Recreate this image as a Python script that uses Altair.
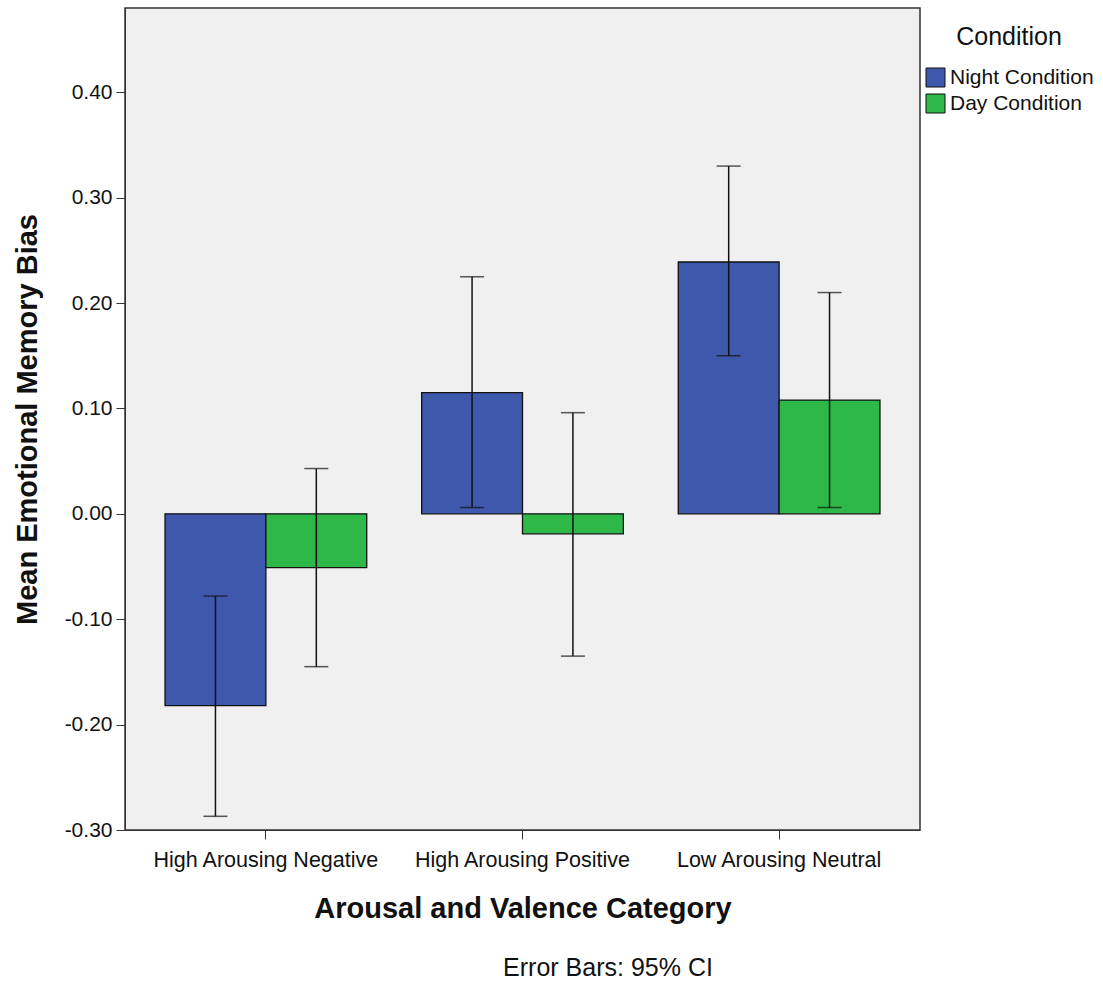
import altair as alt
import pandas as pd

categories = ["High Arousing Negative", "High Arousing Positive", "Low Arousing Neutral"]
conditions = ["Night Condition", "Day Condition"]
night_mean = [-0.182, 0.115, 0.239]
day_mean = [-0.051, -0.019, 0.108]
night_lo = [-0.287, 0.006, 0.150]
night_hi = [-0.078, 0.225, 0.330]
day_lo = [-0.145, -0.135, 0.006]
day_hi = [0.043, 0.096, 0.210]
colors = ["#3E58AC", "#2EB848"]

rows = []
for i, c in enumerate(categories):
    rows.append(dict(cat=c, cond=conditions[0], mean=night_mean[i], lo=night_lo[i], hi=night_hi[i]))
    rows.append(dict(cat=c, cond=conditions[1], mean=day_mean[i], lo=day_lo[i], hi=day_hi[i]))
df = pd.DataFrame(rows)

FONT = "Liberation Sans"

x = alt.X("cat:N", sort=categories,
          scale=alt.Scale(paddingInner=0.214, paddingOuter=0.156),
          axis=alt.Axis(title="Arousal and Valence Category", labelAngle=0, labelFontSize=21.5,
                        labelLimit=0,
                        titleFontSize=29, titleFontWeight="bold", titlePadding=24,
                        tickSize=9, labelPadding=10, domainColor="#333333", tickColor="#333333",
                        labelColor="#111111", titleColor="#111111", labelFont=FONT, titleFont=FONT))
xo = alt.XOffset("cond:N", sort=conditions, scale=alt.Scale(paddingInner=0, paddingOuter=0))
yscale = alt.Scale(domain=[-0.30, 0.48], nice=False, zero=False)

bars = alt.Chart(df).mark_bar(stroke="#111111", strokeWidth=1.3).encode(
    x=x, xOffset=xo,
    y=alt.Y("mean:Q", scale=yscale,
            axis=alt.Axis(title="Mean Emotional Memory Bias", format=".2f",
                          labelExpr="replace(datum.label, '\u2212', '-')",
                          values=[-0.3, -0.2, -0.1, 0.0, 0.1, 0.2, 0.3, 0.4],
                          grid=False, labelFontSize=21, titleFontSize=29, titleFontWeight="bold",
                          tickSize=9, labelPadding=4, titlePadding=22, domainColor="#333333",
                          tickColor="#333333", labelColor="#111111", titleColor="#111111",
                          labelFont=FONT, titleFont=FONT)),
    y2=alt.datum(0),
    color=alt.Color("cond:N", sort=conditions,
                    scale=alt.Scale(domain=conditions, range=colors),
                    legend=alt.Legend(title="Condition", orient="none", legendX=800, legendY=17,
                                      titleFontSize=25, titleFontWeight="normal", titleAnchor="middle",
                                      labelFontSize=21, symbolType="square", symbolSize=361,
                                      symbolStrokeColor="#111111", symbolStrokeWidth=1,
                                      rowPadding=3, titlePadding=17, labelOffset=4,
                                      labelFont=FONT, titleFont=FONT,
                                      labelColor="#111111", titleColor="#111111")),
)

rules = alt.Chart(df).mark_rule(color="#111111", strokeWidth=1.5).encode(
    x=alt.X("cat:N", sort=categories), xOffset=alt.XOffset("cond:N", sort=conditions),
    y="lo:Q", y2="hi:Q")
caps_lo = alt.Chart(df).mark_tick(color="#111111", thickness=1.5, size=24, orient="horizontal").encode(
    x=alt.X("cat:N", sort=categories), xOffset=alt.XOffset("cond:N", sort=conditions), y="lo:Q")
caps_hi = alt.Chart(df).mark_tick(color="#111111", thickness=1.5, size=24, orient="horizontal").encode(
    x=alt.X("cat:N", sort=categories), xOffset=alt.XOffset("cond:N", sort=conditions), y="hi:Q")

note = alt.Chart(pd.DataFrame({"t": ["Error Bars: 95% CI"]})).mark_text(
    fontSize=25, font=FONT, color="#111111", align="center", baseline="middle").encode(
    text="t:N", x=alt.value(483), y=alt.value(960))

chart = alt.layer(bars, rules, caps_lo, caps_hi, note).properties(
    width=795, height=822,
    autosize=alt.AutoSizeParams(type="none"),
    padding={"left": 125, "top": 8, "right": 183, "bottom": 151},
    background="white",
).configure_view(fill="#F0F0F0", stroke="#333333", strokeWidth=1.5)

chart.save("out.html", embed_options={"renderer": "svg", "actions": False})
